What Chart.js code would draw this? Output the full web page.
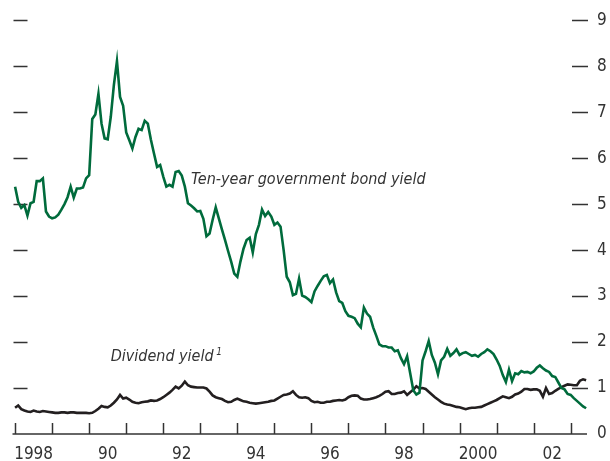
<!DOCTYPE html>
<html>
<head>
<meta charset="utf-8">
<script src="https://cdn.jsdelivr.net/npm/chart.js@4.4.1/dist/chart.umd.min.js"></script>
<style>
html,body{margin:0;padding:0;background:#fff;}
#wrap{width:610px;height:461px;position:relative;}
</style>
</head>
<body>
<div id="wrap"><canvas id="c" width="610" height="461"></canvas></div>
<script>
// ---- data ----
const startYear = 1988; // monthly observations starting January 1988
const bondYield = [
5.38,5.05,4.92,4.98,4.75,5.02,5.05,5.50,5.50,5.56,4.84,4.73,
4.69,4.71,4.77,4.88,5.00,5.15,5.38,5.14,5.34,5.34,5.36,5.56,
5.63,6.85,6.95,7.40,6.75,6.43,6.41,6.90,7.59,8.11,7.33,7.14,
6.56,6.39,6.21,6.46,6.64,6.61,6.81,6.75,6.40,6.10,5.81,5.85,
5.60,5.38,5.42,5.38,5.70,5.72,5.62,5.38,5.02,4.97,4.91,4.84,
4.85,4.68,4.30,4.36,4.66,4.93,4.69,4.45,4.22,3.98,3.75,3.49,
3.42,3.75,4.03,4.22,4.27,3.95,4.35,4.55,4.88,4.74,4.83,4.73,
4.55,4.60,4.51,4.00,3.42,3.30,3.02,3.05,3.38,3.01,2.98,2.93,
2.87,3.10,3.22,3.33,3.43,3.46,3.28,3.36,3.08,2.89,2.85,2.67,
2.57,2.55,2.52,2.40,2.32,2.75,2.62,2.55,2.32,2.14,1.95,1.91,
1.91,1.88,1.88,1.80,1.82,1.65,1.52,1.69,1.32,0.95,0.86,0.90,
1.60,1.80,2.02,1.72,1.55,1.30,1.60,1.68,1.85,1.70,1.76,1.84,
1.72,1.76,1.78,1.74,1.70,1.72,1.68,1.74,1.78,1.84,1.80,1.74,
1.62,1.48,1.28,1.13,1.40,1.15,1.32,1.30,1.37,1.34,1.35,1.32,
1.36,1.44,1.49,1.43,1.38,1.35,1.26,1.24,1.12,1.00,0.97,0.87,
0.85,0.78,0.72,0.66,0.60,0.56
];
const dividendYield = [
0.57,0.62,0.54,0.51,0.49,0.48,0.51,0.49,0.48,0.50,0.49,0.48,
0.47,0.46,0.46,0.47,0.47,0.46,0.47,0.47,0.46,0.46,0.46,0.46,
0.45,0.46,0.50,0.55,0.61,0.59,0.58,0.62,0.68,0.75,0.85,0.77,
0.79,0.75,0.70,0.68,0.67,0.69,0.70,0.71,0.73,0.72,0.73,0.76,
0.80,0.85,0.90,0.96,1.03,0.99,1.05,1.14,1.06,1.03,1.02,1.01,
1.01,1.01,0.99,0.92,0.84,0.80,0.78,0.76,0.72,0.69,0.70,0.74,
0.77,0.74,0.71,0.70,0.68,0.67,0.66,0.67,0.68,0.69,0.70,0.72,
0.73,0.77,0.81,0.85,0.86,0.88,0.93,0.85,0.80,0.79,0.80,0.78,
0.72,0.69,0.70,0.68,0.68,0.70,0.70,0.72,0.73,0.74,0.73,0.75,
0.80,0.83,0.84,0.83,0.77,0.75,0.75,0.76,0.78,0.80,0.83,0.87,
0.92,0.93,0.87,0.87,0.89,0.90,0.93,0.85,0.91,0.96,1.04,0.99,
1.00,0.98,0.92,0.86,0.80,0.75,0.70,0.66,0.64,0.63,0.61,0.59,
0.58,0.56,0.54,0.56,0.57,0.57,0.58,0.59,0.62,0.65,0.68,0.71,
0.74,0.78,0.82,0.80,0.78,0.81,0.86,0.88,0.92,0.98,0.98,0.96,
0.97,0.97,0.94,0.81,1.00,0.87,0.89,0.94,0.98,1.02,1.05,1.08,
1.07,1.06,1.06,1.16,1.19,1.17
];
const labelYears = [1988,1990,1992,1994,1996,1998,2000,2002];
const tickLabels = ['1998','90','92','94','96','98','2000','02'];
const yearTicks = [1988,1989,1990,1991,1992,1993,1994,1995,1996,1997,1998,1999,2000,2001,2002,2003];
const yTicks = [1,2,3,4,5,6,7,8,9];
const bondLabel = 'Ten-year government bond yield';
const divLabel = 'Dividend yield';
const divNote = '1';

const toPoints = arr => arr.map((v,i)=>({x: startYear + i/12, y: v}));

const FONT = "'Liberation Sans Narrow','DejaVu Sans Condensed','Liberation Sans',sans-serif";
const TXT = '#333333';

const decor = {
  id:'decor',
  beforeDatasetsDraw(chart){
    const {ctx, chartArea:a, scales:{x,y}} = chart;
    ctx.save();
    ctx.strokeStyle = TXT;
    ctx.lineWidth = 1.5;
    ctx.beginPath();
    ctx.moveTo(a.left, y.getPixelForValue(0));
    ctx.lineTo(a.right, y.getPixelForValue(0));
    ctx.stroke();
    yearTicks.forEach(t=>{
      const px = Math.round(x.getPixelForValue(t))+0.5;
      ctx.beginPath();
      ctx.moveTo(px, y.getPixelForValue(0));
      ctx.lineTo(px, y.getPixelForValue(0)-11);
      ctx.stroke();
    });
    yTicks.forEach(t=>{
      const py = Math.round(y.getPixelForValue(t))+0.5;
      ctx.beginPath();
      ctx.moveTo(a.left+1, py); ctx.lineTo(a.left+15, py);
      ctx.moveTo(a.right-15, py); ctx.lineTo(a.right+1, py);
      ctx.stroke();
    });
    ctx.restore();
  },
  afterDatasetsDraw(chart){
    const {ctx, scales:{x,y}} = chart;
    ctx.save();
    ctx.fillStyle = TXT;
    ctx.textBaseline = 'middle';
    ctx.textAlign = 'left';
    ctx.font = "italic 16px " + FONT;
    ctx.fillText(bondLabel, x.getPixelForValue(1992.75), y.getPixelForValue(5.52));
    const dx = x.getPixelForValue(1990.58), dy = y.getPixelForValue(1.67);
    ctx.fillText(divLabel, dx, dy);
    const w = ctx.measureText(divLabel + ' ').width;
    ctx.font = "italic 10px " + FONT;
    ctx.fillText(divNote, dx + w - 2, dy - 5);
    ctx.restore();
  }
};

new Chart(document.getElementById('c'), {
  type:'line',
  data:{
    datasets:[
      {label:bondLabel, data:toPoints(bondYield), borderColor:'#006b3c', borderWidth:2.6, pointRadius:0, tension:0, yAxisID:'y'},
      {label:divLabel, data:toPoints(dividendYield), borderColor:'#231f20', borderWidth:2.6, pointRadius:0, tension:0, yAxisID:'y'}
    ]
  },
  options:{
    responsive:false,
    animation:false,
    devicePixelRatio:1,
    layout:{padding:{left:12.5, top:18, right:0, bottom:0}},
    plugins:{legend:{display:false}, tooltip:{enabled:false}},
    scales:{
      x:{
        type:'linear', min:1987.93, max:2003.44,
        afterBuildTicks(s){ s.ticks = labelYears.map(v=>({value:v+0.5})); },
        afterFit(s){ s.height = 27; },
        ticks:{autoSkip:false, maxRotation:0, padding:10, color:TXT, font:{family:FONT, size:17},
          callback:(v,i)=>tickLabels[i]},
        grid:{display:false, drawTicks:false}, border:{display:false}
      },
      y:{
        type:'linear', position:'right', min:0, max:9,
        afterBuildTicks(s){ s.ticks = [0].concat(yTicks).map(v=>({value:v})); },
        afterFit(s){ s.width = 23; },
        ticks:{padding:10, color:TXT, font:{family:FONT, size:17}},
        grid:{display:false, drawTicks:false}, border:{display:false}
      }
    }
  },
  plugins:[decor]
});
</script>
</body>
</html>
